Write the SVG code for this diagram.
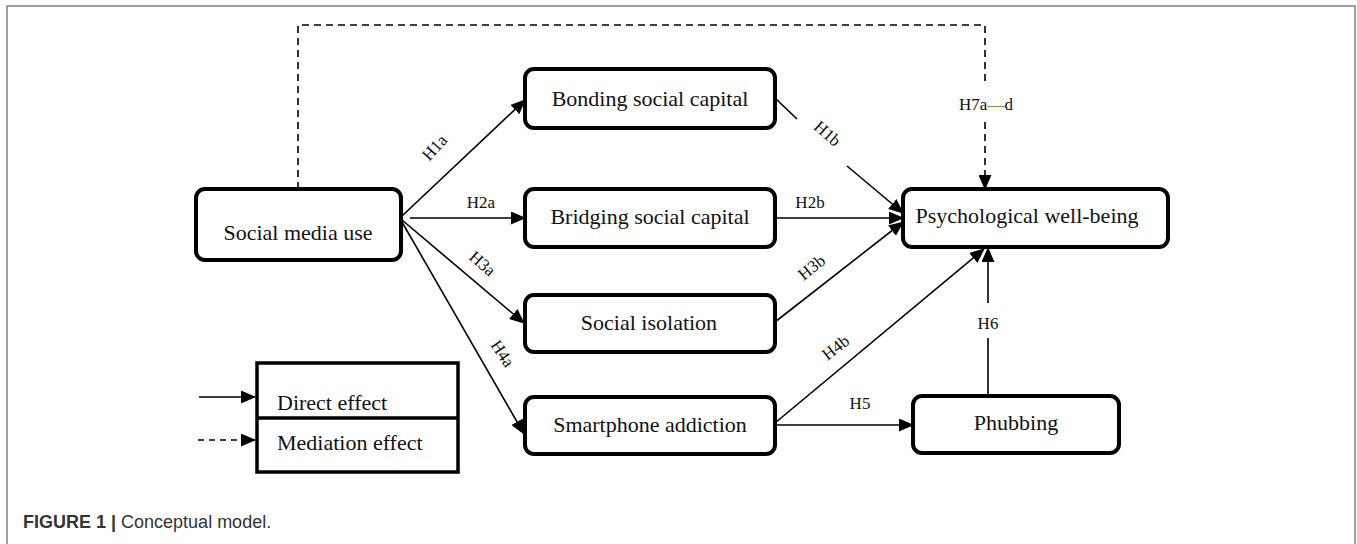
<svg xmlns="http://www.w3.org/2000/svg" width="1357" height="544" viewBox="0 0 1357 544">
<style>
.box{fill:#fff;stroke:#000;stroke-width:4}
.lbl{font-family:"Liberation Serif","Times New Roman",serif;font-size:22px;fill:#111;text-anchor:middle}
.h{font-family:"Liberation Serif","Times New Roman",serif;font-size:17px;fill:#111;text-anchor:middle}
.ln{fill:none;stroke:#000;stroke-width:1.6}
.dash{fill:none;stroke:#000;stroke-width:1.6;stroke-dasharray:7 5}
.cap{font-family:"Liberation Sans",Arial,sans-serif;font-size:18px;fill:#333}
</style>
<defs>
<marker id="ah" markerUnits="userSpaceOnUse" markerWidth="15" markerHeight="13" refX="14" refY="6.5" orient="auto">
<path d="M0,0 L15,6.5 L0,13 Z" fill="#000"/>
</marker>
</defs>
<rect width="1357" height="544" fill="#fff"/>
<path d="M7,544 V6 H1355 V544" fill="none" stroke="#808080" stroke-width="1.5"/>

<g id="connectors">
<path class="dash" d="M298,189 V25 H985 V82"/>
<path class="dash" d="M985,122 V189" marker-end="url(#ah)"/>
<text class="h" x="986" y="110">H7a<tspan fill="#7aa040">—</tspan>d</text>

<path class="ln" d="M402,216 L525,100" marker-end="url(#ah)"/>
<text class="h" transform="translate(435,148) rotate(-48)" y="5">H1a</text>
<path class="ln" d="M410,218 L525,218" marker-end="url(#ah)"/>
<text class="h" x="481" y="208">H2a</text>
<path class="ln" d="M402,220 L524,323" marker-end="url(#ah)"/>
<text class="h" transform="translate(482,264) rotate(41)" y="5">H3a</text>
<path class="ln" d="M402,222 L524,434" marker-end="url(#ah)"/>
<text class="h" transform="translate(502,354) rotate(56)" y="5">H4a</text>

<path class="ln" d="M775,98 L797,119"/>
<path class="ln" d="M847,166 L903,213" marker-end="url(#ah)"/>
<text class="h" transform="translate(827,134) rotate(41)" y="5">H1b</text>
<path class="ln" d="M775,218 L903,218" marker-end="url(#ah)"/>
<text class="h" x="810" y="208">H2b</text>
<path class="ln" d="M775,322 L903,222" marker-end="url(#ah)"/>
<text class="h" transform="translate(812,268) rotate(-39)" y="5">H3b</text>
<path class="ln" d="M775,423 L984,249" marker-end="url(#ah)"/>
<text class="h" transform="translate(836,348) rotate(-38)" y="5">H4b</text>
<path class="ln" d="M775,425 L913,425" marker-end="url(#ah)"/>
<text class="h" x="860" y="409">H5</text>
<path class="ln" d="M988,396 V338"/>
<path class="ln" d="M988,303 V248" marker-end="url(#ah)"/>
<text class="h" x="988" y="329">H6</text>
</g>

<g id="social-media-use">
<rect class="box" x="196" y="189" width="205" height="71" rx="9"/>
<text class="lbl" x="298" y="240">Social media use</text>
</g>
<g id="bonding">
<rect class="box" x="525" y="69" width="250" height="59" rx="9"/>
<text class="lbl" x="650" y="106">Bonding social capital</text>
</g>
<g id="bridging">
<rect class="box" x="525" y="189" width="250" height="58" rx="9"/>
<text class="lbl" x="650" y="224">Bridging social capital</text>
</g>
<g id="isolation">
<rect class="box" x="525" y="295" width="250" height="57" rx="9"/>
<text class="lbl" x="649" y="330">Social isolation</text>
</g>
<g id="smartphone">
<rect class="box" x="525" y="397" width="250" height="57" rx="9"/>
<text class="lbl" x="650" y="432">Smartphone addiction</text>
</g>
<g id="wellbeing">
<rect class="box" x="903" y="189" width="265" height="58" rx="9"/>
<text class="lbl" x="1027" y="223">Psychological well-being</text>
</g>
<g id="phubbing">
<rect class="box" x="913" y="396" width="206" height="57" rx="9"/>
<text class="lbl" x="1016" y="430">Phubbing</text>
</g>

<g id="legend">
<rect x="257" y="363" width="201" height="109" fill="#fff" stroke="#000" stroke-width="3.5"/>
<line x1="257" y1="418" x2="458" y2="418" stroke="#000" stroke-width="3.5"/>
<path class="ln" d="M199,397 H255" marker-end="url(#ah)"/>
<path class="ln" d="M198,440 H255" stroke-dasharray="6 5" marker-end="url(#ah)"/>
<text class="lbl" x="277" y="410" style="text-anchor:start">Direct effect</text>
<text class="lbl" x="277" y="450" style="text-anchor:start">Mediation effect</text>
</g>

<text class="cap" x="23" y="528"><tspan font-weight="bold">FIGURE 1 |</tspan> Conceptual model.</text>
</svg>
